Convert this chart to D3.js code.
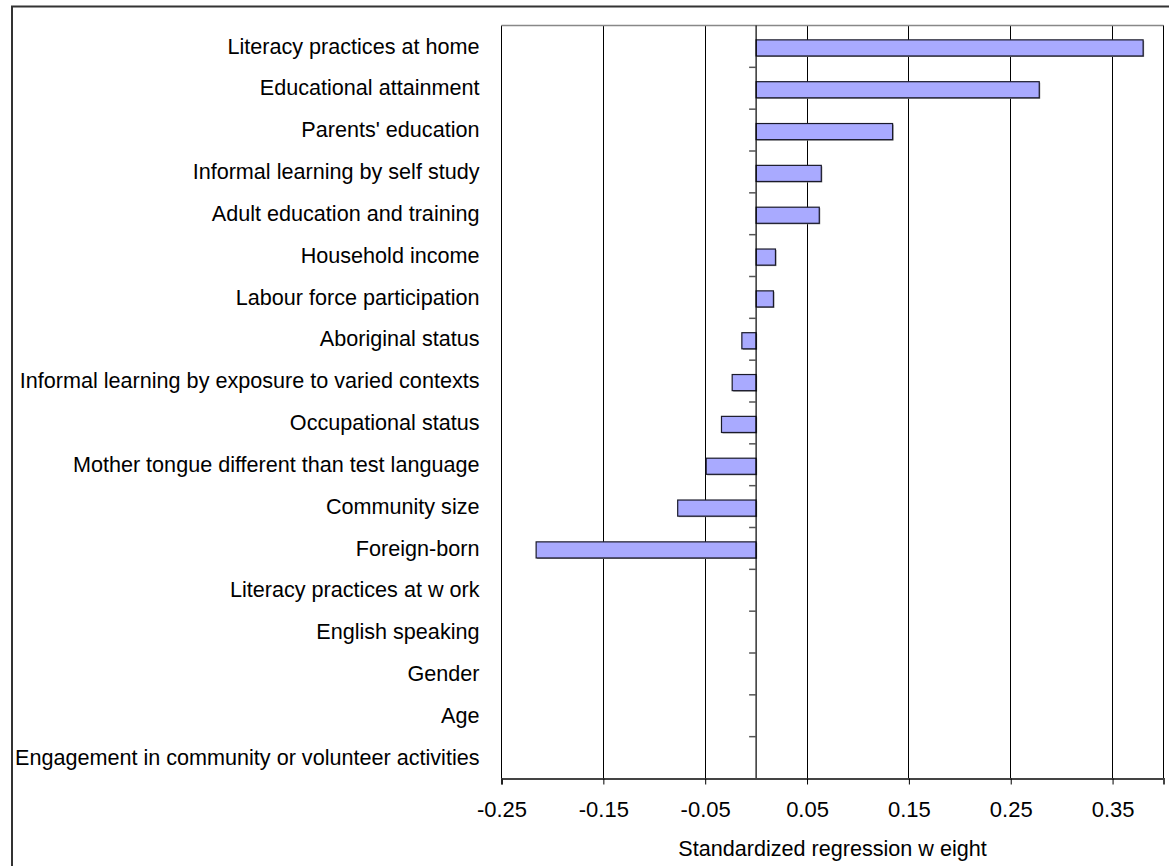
<!DOCTYPE html>
<html>
<head>
<meta charset="utf-8">
<script src="https://cdn.jsdelivr.net/npm/d3@7"></script>
<style>
  body { margin:0; background:#fff; }
  text { font-family: Arial, "Liberation Sans", sans-serif; fill:#000; }
</style>
</head>
<body>
<div class="canvas"></div>
<script>
// data
const categories = [
  'Literacy practices at home',
  'Educational attainment',
  "Parents' education",
  'Informal learning by self study',
  'Adult education and training',
  'Household income',
  'Labour force participation',
  'Aboriginal status',
  'Informal learning by exposure to varied contexts',
  'Occupational status',
  'Mother tongue different than test language',
  'Community size',
  'Foreign-born',
  'Literacy practices at w ork',
  'English speaking',
  'Gender',
  'Age',
  'Engagement in community or volunteer activities'
]
const weights = [0.380, 0.278, 0.134, 0.064, 0.062, 0.019, 0.017, -0.014, -0.0235, -0.034, -0.049, -0.077, -0.216, 0, 0, 0, 0, 0]
const tickValues = [-0.25, -0.15, -0.05, 0.05, 0.15, 0.25, 0.35]
const axisTitle = 'Standardized regression w eight'

const margin = {top:25.5, left:501.5}
const graphWidth = 662
const graphHeight = 753

const svg = d3.select('.canvas').append('svg').attr('width',1169).attr('height',866)

// outer frame (runs off the picture on the right and bottom)
svg.append('rect').attr('x',12).attr('y',6.5).attr('width',1200).attr('height',900)
  .attr('fill','none').attr('stroke','#333').attr('stroke-width',2)

const graph = svg.append('g').attr('transform',`translate(${margin.left},${margin.top})`)

// scales
const x = d3.scaleLinear().domain([-0.25,0.4]).range([0,graphWidth])
const y = d3.scaleBand().domain(categories).range([0,graphHeight]).paddingInner(0.615).paddingOuter(0.3075)

// gridlines
graph.selectAll('.grid').data(tickValues).enter().append('line')
  .attr('x1',d=>Math.round(x(d))).attr('x2',d=>Math.round(x(d)))
  .attr('y1',0).attr('y2',graphHeight)
  .attr('stroke','#000').attr('stroke-width',1)

// plot border top / right
graph.append('line').attr('x1',0).attr('x2',graphWidth).attr('y1',0).attr('y2',0).attr('stroke','#888').attr('stroke-width',1.5)
graph.append('line').attr('x1',graphWidth).attr('x2',graphWidth).attr('y1',0).attr('y2',graphHeight).attr('stroke','#000').attr('stroke-width',1)

// bars with a little shadow
const barData = weights.map((v,i)=>({name:categories[i],value:v})).filter(d=>d.value!==0)
graph.selectAll('.shadow').data(barData).enter().append('rect')
  .attr('x',d=>x(Math.min(0,d.value))+1).attr('y',d=>y(d.name)+2.5)
  .attr('width',d=>Math.abs(x(d.value)-x(0))).attr('height',y.bandwidth())
  .attr('fill','#8a8a8a')
graph.selectAll('.bar').data(barData).enter().append('rect')
  .attr('x',d=>x(Math.min(0,d.value))).attr('y',d=>y(d.name)+1.5)
  .attr('width',d=>Math.abs(x(d.value)-x(0))).attr('height',y.bandwidth())
  .attr('fill','#a9aaff').attr('stroke','#1a1a2a').attr('stroke-width',1.2)

// zero line with category ticks
const zeroG = graph.append('g').attr('transform',`translate(${x(0)},0)`)
zeroG.append('line').attr('y1',0).attr('y2',graphHeight).attr('stroke','#000').attr('stroke-width',1.2)
zeroG.selectAll('.ct').data(d3.range(1,categories.length)).enter().append('line')
  .attr('x1',-7).attr('x2',0)
  .attr('y1',i=>i*graphHeight/categories.length).attr('y2',i=>i*graphHeight/categories.length)
  .attr('stroke','#555').attr('stroke-width',1.5)

// category labels
graph.selectAll('.lbl').data(categories).enter().append('text')
  .attr('x',-22).attr('y',d=>y(d)+y.bandwidth()/2)
  .attr('dy','0.33em').attr('text-anchor','end').style('font-size','21.6px')
  .text(d=>d)

// x axis
const xAxisGroup = graph.append('g').attr('transform',`translate(0,${graphHeight})`)
const xAxis = d3.axisBottom(x).tickValues(tickValues).tickSize(6).tickPadding(17).tickFormat(d3.format('.2f'))
xAxisGroup.call(xAxis)
xAxisGroup.select('.domain').attr('stroke','#444').attr('stroke-width',2)
xAxisGroup.selectAll('.tick line').attr('stroke','#000')
xAxisGroup.selectAll('text').style('font-size','22px').attr('font-family','Arial, "Liberation Sans", sans-serif').attr('fill','#000')
xAxisGroup.selectAll('.tick text').text(d=>d3.format('.2f')(d).replace('−','-'))

graph.append('text').attr('x',331).attr('y',graphHeight+77).attr('text-anchor','middle')
  .style('font-size','21.6px').text(axisTitle)
</script>
</body>
</html>
